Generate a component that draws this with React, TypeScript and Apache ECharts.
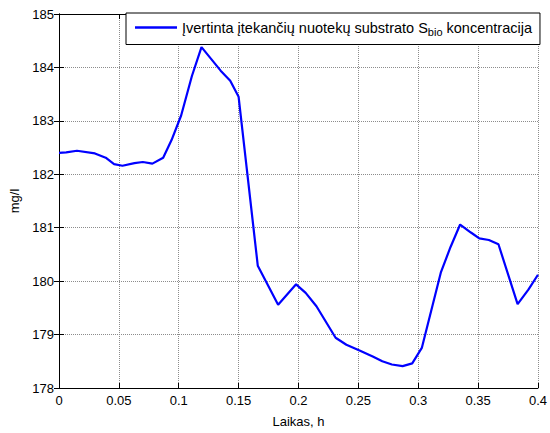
import React, { useEffect, useRef } from "react";
import * as echarts from "echarts";

const timeH = [0, 0.006, 0.015, 0.03, 0.039, 0.046, 0.053, 0.063, 0.07, 0.078, 0.087, 0.094, 0.102, 0.111, 0.119, 0.127, 0.135, 0.143, 0.15, 0.166, 0.183, 0.198, 0.206, 0.215, 0.231, 0.24, 0.251, 0.262, 0.27, 0.278, 0.287, 0.295, 0.303, 0.319, 0.327, 0.335, 0.344, 0.351, 0.359, 0.367, 0.383, 0.392, 0.4];
const sBio = [182.4, 182.41, 182.44, 182.39, 182.31, 182.19, 182.16, 182.21, 182.23, 182.2, 182.31, 182.64, 183.1, 183.84, 184.38, 184.16, 183.94, 183.75, 183.45, 180.29, 179.56, 179.94, 179.78, 179.53, 178.94, 178.81, 178.7, 178.59, 178.5, 178.44, 178.41, 178.46, 178.75, 180.17, 180.64, 181.06, 180.91, 180.8, 180.77, 180.69, 179.57, 179.84, 180.12];

const seriesName = "Įvertinta įtekančių nuotekų substrato Sbio koncentracija";
const xName = "Laikas, h";
const yName = "mg/l";

const FONT = "Liberation Sans, Arial, sans-serif";

export default function App() {
  const ref = useRef<HTMLDivElement>(null);
  useEffect(() => {
    if (!ref.current) return;
    const chart = echarts.init(ref.current, undefined, { renderer: "svg" });
    const data = timeH.map((t, i) => [t, sBio[i]]);
    const baseAxisCommon = {
      axisLine: { show: true, lineStyle: { color: "#000", width: 1 } },
      axisTick: { show: true, inside: true, length: 5, lineStyle: { color: "#000" } },
    };
    const gridLine = { show: true, lineStyle: { color: "#8c8c8c", type: [1, 1], width: 1 } };
    chart.setOption({
      animation: false,
      backgroundColor: "#fff",
      textStyle: { fontFamily: FONT },
      grid: { left: 59, top: 14, width: 480, height: 378, containLabel: false },
      legend: {
        left: 126,
        top: 13,
        padding: [7, 8, 7, 9],
        backgroundColor: "#fff",
        borderColor: "#000",
        borderWidth: 1,
        borderRadius: 0,
        icon: "rect",
        itemWidth: 42,
        itemHeight: 2.5,
        data: [seriesName],
        formatter: () => "Įvertinta įtekančių nuotekų substrato S{sub|bio} koncentracija",
        textStyle: {
          fontFamily: FONT,
          fontSize: 14.5,
          color: "#000",
          rich: {
            sub: { fontFamily: FONT, fontSize: 11, color: "#000", padding: [9, 0, 0, 0] },
          },
        },
      },
      xAxis: [
        {
          type: "value",
          min: 0,
          max: 0.4,
          interval: 0.05,
          position: "bottom",
          name: xName,
          nameLocation: "middle",
          nameGap: 27,
          nameTextStyle: { fontFamily: FONT, fontSize: 13, color: "#000" },
          ...baseAxisCommon,
          axisLabel: { fontFamily: FONT, fontSize: 13, color: "#000", margin: 6 },
          splitLine: gridLine,
        },
        {
          type: "value",
          min: 0,
          max: 0.4,
          interval: 0.05,
          position: "top",
          ...baseAxisCommon,
          axisLabel: { show: false },
          splitLine: { show: false },
        },
      ],
      yAxis: [
        {
          type: "value",
          min: 178,
          max: 185,
          interval: 1,
          position: "left",
          name: yName,
          nameLocation: "middle",
          nameRotate: 90,
          nameGap: 37,
          nameTextStyle: { fontFamily: FONT, fontSize: 13, color: "#000" },
          ...baseAxisCommon,
          axisLabel: { fontFamily: FONT, fontSize: 13, color: "#000", margin: 5 },
          splitLine: gridLine,
        },
        {
          type: "value",
          min: 178,
          max: 185,
          interval: 1,
          position: "right",
          ...baseAxisCommon,
          axisLabel: { show: false },
          splitLine: { show: false },
        },
      ],
      series: [
        {
          name: seriesName,
          type: "line",
          xAxisIndex: 0,
          yAxisIndex: 0,
          data,
          showSymbol: false,
          symbol: "none",
          lineStyle: { color: "#0000FF", width: 2.2 },
          itemStyle: { color: "#0000FF" },
        },
      ],
    });
    return () => chart.dispose();
  }, []);
  return (
    <div
      ref={ref}
      style={{ position: "fixed", left: 0, top: 0, width: 550, height: 433, background: "#fff" }}
    />
  );
}
